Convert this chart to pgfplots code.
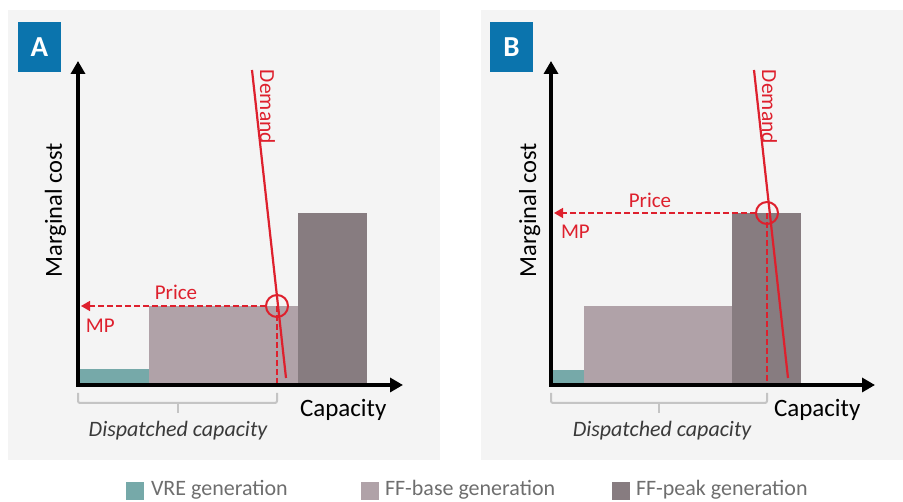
\documentclass[border=0pt]{standalone}
\usepackage{fontspec}
\setmainfont{Carlito}
\usepackage{pgfplots}
\pgfplotsset{compat=1.18}
\usetikzlibrary{arrows.meta}
\definecolor{bg}{HTML}{F4F4F4}
\definecolor{vre}{HTML}{76A9A9}
\definecolor{ffbase}{HTML}{B0A2A8}
\definecolor{ffpeak}{HTML}{877C80}
\definecolor{dred}{HTML}{DE202D}
\definecolor{boxblue}{HTML}{0B74AD}
\definecolor{bracec}{HTML}{C4C4C4}
\definecolor{legtext}{HTML}{6E6E6E}
\definecolor{dtext}{HTML}{3A3A3A}
\pgfplotsset{panel/.style={scale only axis, width=325pt, height=324pt,
  xmin=0, xmax=325, ymin=0, ymax=324, axis lines=none, clip=false,
  anchor=south west}}
\tikzset{lab/.style={inner sep=0pt, outer sep=0pt}}
\begin{document}
\begin{tikzpicture}[x=1pt, y=1pt]
\useasboundingbox (0,0) rectangle (903,502);
\fill[bg] (8,42) rectangle (440,492);
\fill[bg] (481,42) rectangle (903,492);
\fill[boxblue] (18,430) rectangle (61,480);
\fill[boxblue] (490,430) rectangle (533,480);
\node[lab, text=white, font=\bfseries\fontsize{29}{30}\selectfont] at (39.5,455) {A};
\node[lab, text=white, font=\bfseries\fontsize{29}{30}\selectfont] at (511.5,455) {B};

% ---------- Panel A ----------
\begin{axis}[panel, at={(78pt,117pt)}]
\addplot[fill=vre, draw=none] coordinates {(0,16) (71,16)} \closedcycle;
\addplot[fill=ffbase, draw=none] coordinates {(71,79) (220,79)} \closedcycle;
\addplot[fill=ffpeak, draw=none] coordinates {(220,172) (289,172)} \closedcycle;
\addplot[dred, line width=1.5pt, dash pattern=on 6pt off 3pt, -{Triangle[length=9pt,width=10pt]}] coordinates {(188,79) (3,79)};
\addplot[dred, line width=1.5pt, dash pattern=on 6pt off 3pt] coordinates {(199,79) (199,0)};
\addplot[dred, line width=2.2pt] coordinates {(174,315) (208,7)};
\addplot[only marks, mark=o, mark size=11pt, dred, mark options={line width=2pt}] coordinates {(199,79)};
\draw[line width=3.5pt, {Triangle[length=13pt,width=14pt]}-{Triangle[length=13pt,width=14pt]}] (0,324) -- (0,0) -- (325,0);
\draw[bracec, line width=2pt, rounded corners=2pt] (0,-8) -- (0,-18) -- (199,-18) -- (199,-8);
\draw[bracec, line width=2pt] (99.5,-18) -- (99.5,-28);
\node[lab, rotate=90, anchor=base, font=\fontsize{24.5}{28}\selectfont] at (-16,175) {Marginal cost};
\node[lab, anchor=base west, font=\fontsize{25}{30}\selectfont] at (222,-32) {Capacity};
\node[lab, anchor=base, text=dtext, font=\itshape\fontsize{22}{26}\selectfont] at (100,-52) {Dispatched capacity};
\node[lab, rotate=-90, anchor=base west, text=dred, font=\fontsize{21.5}{25}\selectfont] at (182,315) {Demand};
\node[lab, anchor=base, text=dred, font=\fontsize{21}{25}\selectfont] at (98,85) {Price};
\node[lab, anchor=base west, text=dred, font=\fontsize{21}{25}\selectfont] at (8,52) {MP};
\end{axis}

% ---------- Panel B ----------
\begin{axis}[panel, at={(551pt,117pt)}]
\addplot[fill=vre, draw=none] coordinates {(0,15) (33,15)} \closedcycle;
\addplot[fill=ffbase, draw=none] coordinates {(33,79) (181,79)} \closedcycle;
\addplot[fill=ffpeak, draw=none] coordinates {(181,172) (250,172)} \closedcycle;
\addplot[dred, line width=1.5pt, dash pattern=on 6pt off 3pt, -{Triangle[length=9pt,width=10pt]}] coordinates {(205,172) (3,172)};
\addplot[dred, line width=1.5pt, dash pattern=on 6pt off 3pt] coordinates {(216,172) (216,0)};
\addplot[dred, line width=2.2pt] coordinates {(203,315) (237,7)};
\addplot[only marks, mark=o, mark size=11pt, dred, mark options={line width=2pt}] coordinates {(216,172)};
\draw[line width=3.5pt, {Triangle[length=13pt,width=14pt]}-{Triangle[length=13pt,width=14pt]}] (0,324) -- (0,0) -- (324,0);
\draw[bracec, line width=2pt, rounded corners=2pt] (0,-8) -- (0,-18) -- (216,-18) -- (216,-8);
\draw[bracec, line width=2pt] (108,-18) -- (108,-28);
\node[lab, rotate=90, anchor=base, font=\fontsize{24.5}{28}\selectfont] at (-15,175) {Marginal cost};
\node[lab, anchor=base west, font=\fontsize{25}{30}\selectfont] at (223,-32) {Capacity};
\node[lab, anchor=base, text=dtext, font=\itshape\fontsize{22}{26}\selectfont] at (111,-52) {Dispatched capacity};
\node[lab, rotate=-90, anchor=base west, text=dred, font=\fontsize{21.5}{25}\selectfont] at (211,315) {Demand};
\node[lab, anchor=base, text=dred, font=\fontsize{21}{25}\selectfont] at (99,177) {Price};
\node[lab, anchor=base west, text=dred, font=\fontsize{21}{25}\selectfont] at (10,146) {MP};
\end{axis}

% ---------- Legend ----------
\fill[vre] (126,2) rectangle (144,20);
\fill[ffbase] (361,2) rectangle (379,20);
\fill[ffpeak] (612,2) rectangle (630,20);
\node[lab, anchor=base west, text=legtext, font=\fontsize{22}{26}\selectfont] at (151,6.5) {VRE generation};
\node[lab, anchor=base west, text=legtext, font=\fontsize{22}{26}\selectfont] at (385,6.5) {FF-base generation};
\node[lab, anchor=base west, text=legtext, font=\fontsize{22}{26}\selectfont] at (636,6.5) {FF-peak generation};
\end{tikzpicture}
\end{document}
